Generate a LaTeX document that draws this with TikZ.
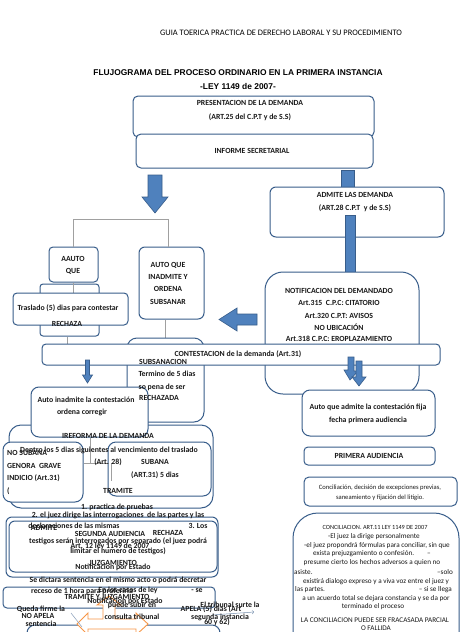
\documentclass[tikz,border=0pt]{standalone}
\usepackage{fontspec}
\setmainfont{Carlito}
\newfontfamily\arialf{Liberation Sans}
\usetikzlibrary{fit}
\definecolor{bcol}{RGB}{56,93,138}
\definecolor{afill}{RGB}{79,129,189}
\definecolor{gline}{RGB}{160,160,160}
\definecolor{ocol}{RGB}{247,150,70}
\tikzset{
  box/.style={draw=bcol, fill=white, line width=1pt, inner sep=0pt, rounded corners=#1},
  box/.default=5pt,
  t/.style={inner sep=0pt, font=\fontsize{7.8}{9}\selectfont\bfseries, text=black!90},
  ts/.style={inner sep=0pt, font=\fontsize{6.3}{7}\selectfont, text=black!90},
  tl/.style={inner sep=0pt, font=\fontsize{7.2}{8}\selectfont, text=black!90},
  tc/.style={inner sep=0pt, font=\fontsize{6.6}{7}\selectfont, text=black!90},
  barrow/.style={draw=bcol, fill=afill, line width=0.6pt},
  tline/.style={draw=gline, line width=0.6pt},
}
\begin{document}
\begin{tikzpicture}[x=1pt,y=-1pt]
\useasboundingbox (0,0) rectangle (474,632);
\clip (0,0) rectangle (474,632);
\fill[white] (0,0) rectangle (474,632);

% header and title
\node[inner sep=0, font=\fontsize{8.4}{9}\selectfont] (hdr) at (281,33) {GUIA TOERICA PRACTICA DE DERECHO LABORAL Y SU PROCEDIMIENTO};
\node[inner sep=0, font=\arialf\bfseries\fontsize{8.4}{9}\selectfont] (ttl1) at (238,73) {FLUJOGRAMA DEL PROCESO ORDINARIO EN LA PRIMERA INSTANCIA};
\node[inner sep=0, font=\arialf\bfseries\fontsize{8.4}{9}\selectfont] (ttl2) at (238,86) {-LEY 1149 de 2007-};

% top boxes
\node[box, fit={(133,96) (374,137)}] (pres) {};
\node[box, fit={(136,134) (373,168)}] (inf) {};

% big arrow down (left)
\draw[barrow] (148,175) -- (162,175) -- (162,197) -- (168,197) -- (155,213) -- (142,197) -- (148,197) -- cycle;
% shaft right
\draw[barrow] (341,170) rectangle (354,188);
\node[box=6pt, fit={(270,187) (444,237)}] (admite) {};
\draw[barrow] (345,215) rectangle (355,273);

% tree
\coordinate (j1) at (73,219);
\coordinate (j2) at (168,219);
\node[box=3pt, fit={(40,284) (99,336)}] (rech) {};
\node[box=4pt, fit={(49,247) (98,282)}] (aauto) {};
\node[box=6pt, fit={(139,247) (204,319)}] (autoque) {};
\draw[tline] (aauto.north) -- (aauto.north |- j1) -- (j2) -- (j2 |- autoque.north);
\draw[tline] (aauto.south) -- ++(0,11);
\node[box=4pt, fit={(13,293) (128,325)}] (trasl) {};

% left arrow
\draw[barrow] (257,314) -- (237,314) -- (237,308) -- (219,319.5) -- (237,331) -- (237,325) -- (257,325) -- cycle;

\node[box=18pt, fit={(265,272) (419,394)}] (notif) {};

\draw[tline] (rech.south) ++(-2,0) -- ++(0,8);
\draw[tline] (autoque.south) ++(-6,0) -- ++(0,20);
\node[box=10pt, fit={(127,338) (204,422)}] (subsan) {};
\node[box=4pt, fit={(42,344) (440,365)}] (contest) {};

% small arrows
\draw[barrow] (85.5,360) -- (89.5,360) -- (89.5,375) -- (92.5,375) -- (87.5,383) -- (82.5,375) -- (85.5,375) -- cycle;
\draw[barrow] (348,357) -- (354,357) -- (354,371) -- (358,371) -- (350,380) -- (344,370) -- (348,370) -- cycle;
\draw[barrow] (356,361) -- (362,361) -- (362,377) -- (366,377) -- (359,386) -- (352,377) -- (356,377) -- cycle;

% reforma area
\node[box=12pt, fit={(9,425) (213,508)}] (reforma) {};
\node[box=8pt, fit={(31,387) (148,437)}] (inadm) {};
\node[box=8pt, fit={(3,442) (83,502)}] (nosub) {};
\node[box=8pt, fit={(108,442) (211,496)}] (subana) {};
\coordinate (j3) at (90,463);
\draw[tline] (inadm.south -| j3) -- (j3);
\draw[tline] (nosub.east |- j3) -- (subana.west |- j3);
\draw[tline] (111,463) -- (111,481);

% segunda audiencia area
\node[box=6pt, fit={(6,517) (218,577)}] (seg1) {};
\node[box=6pt, fit={(9,521) (217,572)}] (seg2) {};
\node[box=4pt, fit={(3,587) (215,608)}] (tramj) {};
\node[box=8pt, fit={(27,625) (220,670)}] (botbox) {};

% orange tri-arrow
\draw[draw=ocol, fill=white, line width=0.9pt] (109,596) -- (121,605) -- (115,605) -- (115,619) -- (136,619) -- (136,613) -- (148,624) -- (136,635) -- (136,629) -- (88,629) -- (88,635) -- (77,624) -- (88,613) -- (88,619) -- (103,619) -- (103,605) -- (97,605) -- cycle;
\coordinate (qa) at (71,613);
\coordinate (qb) at (82,627);
\draw[draw=bcol!60, line width=0.5pt] (qa) -- (qb);
\coordinate (ta) at (212,615);
\coordinate (tb) at (254,612);
\draw[draw=bcol!70, line width=0.5pt, ->] (ta) -- (tb);

% right column
\node[box=8pt, fit={(302,390) (435,436)}] (autoadm) {};
\node[box=4pt, fit={(304,447) (435,465)}] (primera) {};
\node[box=5pt, fit={(304,477) (457,506)}] (concil1) {};
\node[box=25pt, fit={(293,513) (459,690)}] (concil2) {};

% ---------- texts ----------
\node[t] (a1) at (250,103) {PRESENTACION DE LA DEMANDA};
\node[t] (a2) at (250,117) {(ART.25 del C.P.T y de S.S)};
\node[t] (a3) at (252,151) {INFORME SECRETARIAL};
\node[t] (a4) at (355,195) {ADMITE LAS DEMANDA};
\node[t] (a5) at (355,208) {(ART.28 C.P.T\ \ y de S.S)};
\node[t] (a6) at (73,259) {AAUTO};
\node[t] (a7) at (73,271) {QUE};
\node[t] (a8) at (67,324) {RECHAZA};
\node[t] (a9) at (68,308) {Traslado (5) dias para contestar};
\node[t] (a10) at (168,265) {AUTO QUE};
\node[t] (a11) at (168,277) {INADMITE Y};
\node[t] (a12) at (168,289) {ORDENA};
\node[t] (a13) at (168,302) {SUBSANAR};
\node[t] (b1) at (339,291) {NOTIFICACION DEL DEMANDADO};
\node[t] (b2) at (339,303) {Art.315\ \ C.P.C: CITATORIO};
\node[t] (b3) at (339,316) {Art.320 C.P.T: AVISOS};
\node[t] (b4) at (339,327) {NO UBICACIÓN};
\node[t] (b5) at (339,339) {Art.318 C.P.C: EROPLAZAMIENTO};
\node[t] (b6) at (238,354) {CONTESTACION de la demanda (Art.31)};
\node[t] (c1) at (163,362) {SUBSANACION};
\node[t] (c2) at (167,374) {Termino de 5 dias};
\node[t] (c3) at (162,387) {so pena de ser};
\node[t] (c4) at (159,398) {RECHAZADA};
\node[t] (c5) at (86,400) {Auto inadmite la contestación};
\node[t] (c6) at (82,412) {ordena corregir};
\node[t] (d1) at (108,436) {IREFORMA DE LA DEMANDA};
\node[t] (d2) at (109,450) {Dentro los 5 dias siguientes al vencimiento del traslado};
\node[t] (d3) at (108,462) {(Art. 28)};
\node[t, anchor=west] (d4) at (7,453) {NO SUBANA};
\node[t, anchor=west] (d5) at (7,466) {GENORA\ \ GRAVE};
\node[t, anchor=west] (d6) at (7,478) {INDICIO (Art.31)};
\node[t, anchor=west] (d7) at (7,491) {(};
\node[t] (d8) at (155,462) {SUBANA};
\node[t] (d9) at (155,475) {(ART.31) 5 dias};
\node[t] (d10) at (118,491) {TRAMITE};
\node[t] (d11) at (117,507) {1. practica de pruebas};
\node[t] (e1) at (118,515) {2. el juez dirige las interrogaciones\ \ de las partes y las};
\node[t] (e2) at (74,526) {declaraciones de las mismas};
\node[t] (e3) at (44,528) {ADMITE};
\node[t] (e4) at (110,534) {SEGUNDA AUDIENCIA};
\node[t] (e5) at (168,533) {RECHAZA};
\node[t] (e6) at (198,526) {3. Los};
\node[t] (e7) at (118,541) {testigos serán interrogados por separado (el juez podrá};
\node[t] (e8) at (110,546) {Art. 12 ley 1149 de 2007};
\node[t] (e9) at (118,551) {limitar el numero de testigos)};
\node[t] (e10) at (113,563) {JUZGAMIENTO};
\node[t] (e11) at (113,567) {Notificacion por Estado};
\node[t] (e12) at (118,580) {Se dictara sentencia en el mismo acto o podrá decretar};
\node[t] (e13) at (82,591) {receso de 1 hora para proferirla};
\node[t] (e14) at (128,590) {En los casos de ley};
\node[t] (e15) at (197,591) {- se};
\node[t] (e16) at (107,597) {TRAMITE Y JUZGAMIENTO};
\node[t] (e17) at (125,601) {Notificacion por Estado};
\node[t] (e18) at (132,605) {puede subir en};
\node[t] (e19) at (132,617) {consulta tribunal};
\node[t] (e20) at (41,609) {Queda firme la};
\node[t] (e21) at (38,616) {NO APELA};
\node[t] (e22) at (41,624) {sentencia};
\node[t] (e23) at (230,605) {El tribunal surte la};
\node[t] (e24) at (211,609) {APELA (5) dias (Art};
\node[t] (e25) at (220,617) {segunda instancia};
\node[t] (e26) at (217,622) {60 y 62)};
\node[t] (f1) at (368,407) {Auto que admite la contestación fija};
\node[t] (f2) at (368,420) {fecha primera audiencia};
\node[t] (f3) at (369,456) {PRIMERA AUDIENCIA};
\node[tc] (f4) at (380,488) {Conciliación, decisión de excepciones previas,};
\node[tc] (f5) at (380,498) {saneamiento y fijación del litigio.};
\node[ts] (g1) at (375,527) {CONCILIACION. ART.11 LEY 1149 DE 2007};
\node[tl] (g2) at (374,537) {-El juez la dirige personalmente};
\node[tl] (g3) at (377,546) {-el juez propondrá fórmulas para conciliar, sin que};
\node[tl, anchor=west] (g4) at (313,554) {exista prejuzgamiento o confesión.};
\node[tl, anchor=east] (g4b) at (431,554) {–};
\node[tl] (g5) at (372,563) {presume cierto los hechos adversos a quien no};
\node[tl, anchor=west] (g6) at (294,572) {asiste.};
\node[tl, anchor=east] (g6b) at (453,572) {–solo};
\node[tl] (g7) at (376,582) {existirá dialogo expreso y a viva voz entre el juez y};
\node[tl, anchor=west] (g8) at (295,590) {las partes.};
\node[tl, anchor=east] (g8b) at (452,590) {– si se llega};
\node[tl] (g9) at (376,599) {a un acuerdo total se dejara constancia y se da por};
\node[tl] (g10) at (373,607) {terminado el proceso};
\node[tl] (g11) at (375,620) {LA CONCILIACION PUEDE SER FRACASADA PARCIAL};
\node[tl] (g12) at (376,628) {O FALLIDA};
\end{tikzpicture}
\end{document}
